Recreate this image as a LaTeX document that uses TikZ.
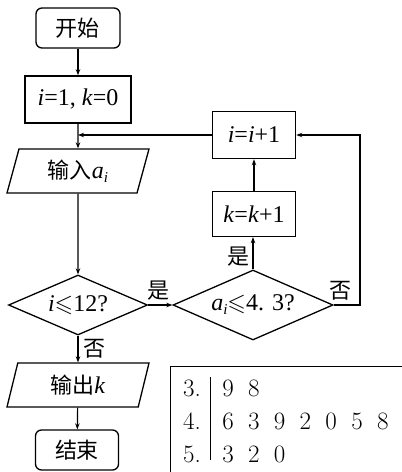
\documentclass[tikz,border=0pt]{standalone}
\usepackage{amssymb}
\usepackage{fontspec}
\setmainfont{Liberation Serif}
\newfontfamily\cjk{Noto Sans CJK SC}
\usetikzlibrary{shapes.geometric,arrows.meta}
\newcommand\cnf{\fontsize{22}{24}\selectfont\cjk}
\newcommand\ai{\textit{a}\raisebox{-4pt}{\fontsize{15}{15}\selectfont\textit{i}}}
\begin{document}
\begin{tikzpicture}[x=1pt,y=-1pt,
 every node/.style={font=\fontsize{24}{26}\selectfont},
 base/.style={draw,line width=1.3pt,inner sep=0pt,align=center},
 term/.style={base,rounded corners=6pt,minimum width=84pt,minimum height=40pt},
 proc/.style={base,line width=1.6pt,minimum width=106pt,minimum height=47pt},
 io/.style={base,trapezium,trapezium left angle=62,trapezium right angle=118,trapezium stretches body,minimum width=142pt,minimum height=44pt},
 dec/.style={base,diamond,aspect=2.4},
 arr/.style={line width=1.2pt,-{Stealth[length=6pt,width=4.5pt]}},
 lbl/.style={font=\cnf,inner sep=0pt},
 tab/.style={font=\fontsize{25}{28}\fontfamily{lmr}\selectfont,inner sep=0pt},
 tline/.style={line width=1pt}]
\useasboundingbox (0,0) rectangle (402,472);
\node[term] (start) at (78,28) {{\cnf 开始}};
\node[proc] (init) at (78,99.5) {\textit{i}=1, \textit{k}=0};
\node[io] (in) at (78,171) {{\cnf 输入}\ai};
\node[dec,minimum width=139pt,minimum height=60pt] (d1) at (78,305) {\textit{i}$\leqslant$12?};
\node[io] (out) at (78,385) {{\cnf 输出}\textit{k}};
\node[term,minimum width=83pt] (end) at (77,450) {{\cnf 结束}};
\node[proc,minimum width=83pt,minimum height=45pt,line width=1.3pt] (kb) at (254,214) {\textit{k}=\textit{k}+1};
\node[proc,minimum width=83pt,minimum height=47pt] (ib) at (254,135) {\textit{i}=\textit{i}+1};
\node[dec,minimum width=160pt,minimum height=70pt] (d2) at (253,305) {\ai$\leqslant$4. 3?};
\coordinate (m) at (78,135);
\coordinate (r) at (360,305);
\draw[arr] (start) -- (init);
\draw[arr] (init) -- (in);
\draw[arr] (ib.west) -- (m);
\draw[arr] (in) -- (d1);
\draw[arr] (d1.east) -- (d2.west);
\draw[arr] (d1) -- (out);
\draw[arr] (out) -- (end);
\draw[arr] (d2.north) -- (d2.north |- kb.south);
\draw[arr] (kb) -- (ib);
\draw[arr] (d2.east) -- (r) |- (ib.east);
\node[lbl] (y1) at (158,291) {是};
\node[lbl] (y2) at (238,257) {是};
\node[lbl] (n2) at (340,291) {否};
\node[lbl] (n1) at (94,349) {否};
% stem-and-leaf table
\draw[tline] (170,472) -- (170,366) -- (402,366);
\draw[tline] (210,377) -- (210,460);
\node[tab] (s3) at (192,388) {3.};
\node[tab] (s4) at (192,421) {4.};
\node[tab] (s5) at (192,454) {5.};
\foreach \d [count=\c] in {9,8} {\node[tab] at (228+25.8*\c-25.8,388) {\d};}
\foreach \d [count=\c] in {6,3,9,2,0,5,8} {\node[tab] at (228+25.8*\c-25.8,421) {\d};}
\foreach \d [count=\c] in {3,2,0} {\node[tab] at (228+25.8*\c-25.8,454) {\d};}
\end{tikzpicture}
\end{document}
